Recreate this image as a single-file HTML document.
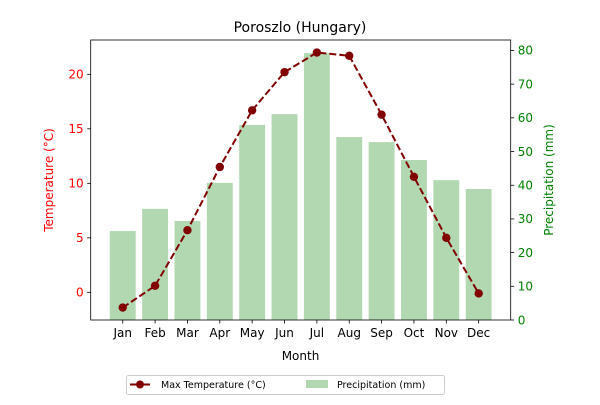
<!DOCTYPE html>
<html><head><meta charset="utf-8"><style>
body{margin:0;background:#fff}
svg text{font-family:"DejaVu Sans","Liberation Sans",sans-serif}
</style></head><body>
<svg id="chart" width="600" height="400" viewBox="0 0 600 400">
<rect width="600" height="400" fill="#fff"/>
<g id="bars"></g><g id="line"></g><g id="axes"></g>
<text x="300" y="32" text-anchor="middle" font-size="14">Poroszlo (Hungary)</text>
<text x="300.5" y="360" text-anchor="middle" font-size="12">Month</text>
<text transform="translate(53,180) rotate(-90)" text-anchor="middle" font-size="12" fill="red">Temperature (°C)</text>
<text transform="translate(553,180) rotate(-90)" text-anchor="middle" font-size="12" fill="green">Precipitation (mm)</text>
<g>
<rect x="126.5" y="375.5" width="318" height="19" rx="2" fill="#fff" stroke="#ccc"/>
<g>
<line x1="130" y1="384.5" x2="150" y2="384.5" stroke="#800000" stroke-width="2"/>
<circle cx="140" cy="384.5" r="4" fill="#800000"/>
<text x="161" y="388" font-size="9.5">Max Temperature (°C)</text></g>
<g>
<rect x="306" y="380" width="22" height="8" fill="#b2d8b2"/>
<text x="337" y="388" font-size="9.5">Precipitation (mm)</text></g>
</g>
</svg>
<script>
const months=["Jan","Feb","Mar","Apr","May","Jun","Jul","Aug","Sep","Oct","Nov","Dec"];
const maxTemp=[-1.4,0.6,5.7,11.5,16.7,20.2,22.0,21.7,16.3,10.6,5.0,-0.1];
const precip=[26.4,33.0,29.4,40.7,57.9,61.1,79.2,54.3,52.8,47.5,41.5,38.9];
const tempTicks=[0,5,10,15,20];
const precipTicks=[0,10,20,30,40,50,60,70,80];
const NS="http://www.w3.org/2000/svg";
const L=90.7,R=510.7,T=40,B=320;
const x=i=>L+(i+0.99)/(12.98)*(R-L);
const yT=v=>B-(v+2.54)/(23.15+2.54)*(B-T);
const yP=v=>B-v/83.1*(B-T);
function mk(tag,attrs,parent){const e=document.createElementNS(NS,tag);for(const k in attrs)e.setAttribute(k,attrs[k]);parent.appendChild(e);return e;}
const gb=document.getElementById('bars'),gl=document.getElementById('line'),ga=document.getElementById('axes');
const bw=0.8*(R-L)/12.98;
precip.forEach((v,i)=>{const r=mk('rect',{x:x(i)-bw/2,y:yP(v),width:bw,height:B-yP(v),fill:'#b2d8b2'},gb);

});
const pl=mk('polyline',{points:maxTemp.map((v,i)=>x(i)+','+yT(v)).join(' '),fill:'none',stroke:'#800000','stroke-width':2,'stroke-dasharray':'7,3'},gl);


maxTemp.forEach((v,i)=>{const c=mk('circle',{cx:x(i),cy:yT(v),r:4.2,fill:'#800000'},gl);

});
const fr=mk('rect',{x:L,y:T,width:R-L,height:B-T,fill:'none',stroke:'#000','stroke-width':0.8},ga);


months.forEach((m,i)=>{mk('line',{x1:x(i),x2:x(i),y1:B,y2:B+3.5,stroke:'#000','stroke-width':0.8},ga);
const t=mk('text',{x:x(i),y:B+17,'text-anchor':'middle','font-size':12},ga);t.textContent=m;

});
tempTicks.forEach(v=>{mk('line',{x1:L-3.5,x2:L,y1:yT(v),y2:yT(v),stroke:'#000','stroke-width':0.8},ga);
const t=mk('text',{x:L-7,y:yT(v)+4.3,'text-anchor':'end','font-size':12,fill:'red'},ga);t.textContent=v;

});
precipTicks.forEach(v=>{mk('line',{x1:R,x2:R+3.5,y1:yP(v),y2:yP(v),stroke:'#000','stroke-width':0.8},ga);
const t=mk('text',{x:R+7,y:yP(v)+4.3,'text-anchor':'start','font-size':12,fill:'green'},ga);t.textContent=v;

});
</script>
</body></html>
